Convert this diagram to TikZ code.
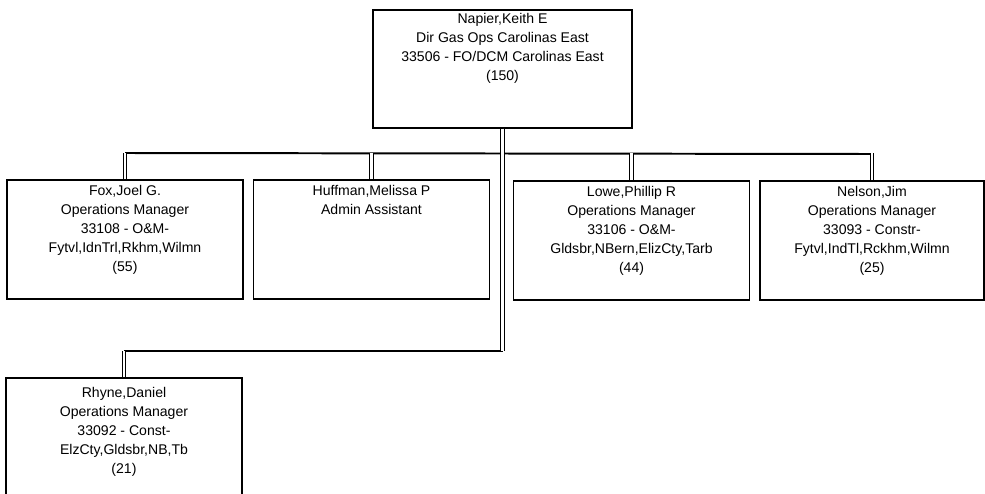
\documentclass[tikz,border=0pt]{standalone}
\usepackage{fontspec}
\setmainfont{Liberation Sans}
\usetikzlibrary{positioning}

\tikzset{
  personbox/.style={draw, line width=1.2pt, anchor=north, inner sep=0pt},
  persontext/.style={anchor=north, inner sep=0pt, yshift=-0.16cm, align=center,
    font=\fontsize{10}{13.5}\selectfont},
  link/.style={double, double distance=1.5pt, line width=0.9pt},
  bus/.style={line width=1.4pt}
}

\begin{document}
\begin{tikzpicture}[x=0.025cm, y=-0.025cm]

% box dimensions
\newcommand{\bwidth}{5.9cm}
\newcommand{\bheight}{2.975cm}
\newcommand{\drop}{26}

% ad hoc bounding box
\useasboundingbox (0, 0) rectangle (985, 493);

% top box
\node[personbox, minimum width=6.475cm, minimum height=2.95cm] (napier) at (502.5, 9) {};
\node[persontext, yshift=0.05cm] (napiertext) at (napier.north) {Napier,Keith E\\Dir Gas Ops Carolinas East\\33506 - FO/DCM Carolinas East\\(150)};

% first row
\node[personbox, minimum width=\bwidth, minimum height=\bheight] (fox) at (125, 179) {};
\node[persontext] (foxtext) at (fox.north) {Fox,Joel G.\\Operations Manager\\33108 - O\&M-\\Fytvl,IdnTrl,Rkhm,Wilmn\\(55)};

\node[personbox, minimum width=\bwidth, minimum height=\bheight] (huffman) at (371.5, 179) {};
\node[persontext] (huffmantext) at (huffman.north) {Huffman,Melissa P\\Admin Assistant};

\node[personbox, minimum width=\bwidth, minimum height=\bheight] (lowe) at (631.5, 180) {};
\node[persontext] (lowetext) at (lowe.north) {Lowe,Phillip R\\Operations Manager\\33106 - O\&M-\\Gldsbr,NBern,ElizCty,Tarb\\(44)};

\node[personbox, minimum width=5.6cm, minimum height=\bheight] (nelson) at (872, 180) {};
\node[persontext] (nelsontext) at (nelson.north) {Nelson,Jim\\Operations Manager\\33093 - Constr-\\Fytvl,IndTl,Rckhm,Wilmn\\(25)};

% second row
\node[personbox, minimum width=\bwidth, minimum height=\bheight] (rhyne) at (124, 377) {};
\node[persontext, yshift=-0.08cm] (rhynetext) at (rhyne.north) {Rhyne,Daniel\\Operations Manager\\33092 - Const-\\ElzCty,Gldsbr,NB,Tb\\(21)};

% bus lines
\path (fox.north) ++(0, -\drop) coordinate (busleft);
\path (nelson.north) ++(0, -\drop) coordinate (busright);
\path (rhyne.north) ++(0, -\drop) coordinate (rhynebus);

\draw[bus] (busleft) -- (busright);
\draw[bus] (rhynebus) -- (napier.south |- rhynebus);

% drops
\foreach \n in {fox, huffman, lowe, nelson}
  \draw[link] (\n.north) -- (\n.north |- busleft);
\draw[link] (napier.south) -- (napier.south |- rhynebus);
\draw[link] (rhyne.north) -- (rhynebus);

\end{tikzpicture}
\end{document}
